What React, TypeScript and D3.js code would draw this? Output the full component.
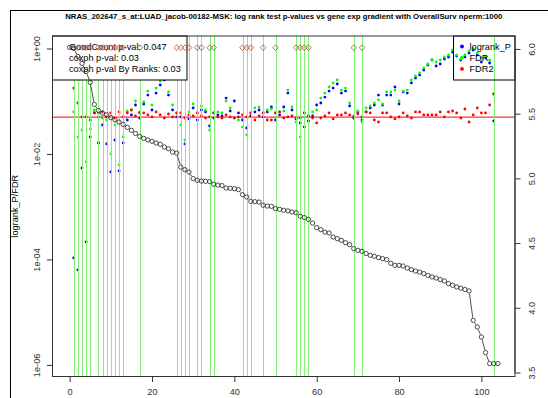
import React, { useEffect, useRef } from 'react';
import * as d3 from 'd3';

// chart text
const title = 'NRAS_202647_s_at:LUAD_jacob-00182-MSK: log rank test p-values vs gene exp gradient with OverallSurv nperm:1000';
const yLabel = 'logrank_P/FDR';
const statLines = ['GoodCount p-val: 0.047', 'coxph p-val: 0.03', 'coxph p-val By Ranks: 0.03'];
const seriesNames = ['logrank_P', 'FDR', 'FDR2'];
const seriesColors = ['#0000ff', '#00ff00', '#ff0000'];

// gene expression, sorted, samples 0..104 (right axis)
const geneExp = [
  6.012, 6.004, 5.942, 5.888, 5.826, 5.741, 5.571, 5.525, 5.504, 5.492,
  5.469, 5.453, 5.435, 5.417, 5.394, 5.371, 5.347, 5.324, 5.309, 5.297,
  5.286, 5.273, 5.263, 5.242, 5.229, 5.203, 5.195, 5.087, 5.067, 5.049,
  4.998, 4.985, 4.979, 4.977, 4.975, 4.954, 4.948, 4.944, 4.925, 4.923,
  4.920, 4.913, 4.874, 4.856, 4.822, 4.820, 4.817, 4.792, 4.786, 4.784,
  4.766, 4.761, 4.753, 4.749, 4.740, 4.735, 4.707, 4.697, 4.683, 4.655,
  4.619, 4.604, 4.585, 4.578, 4.547, 4.534, 4.521, 4.503, 4.488, 4.457,
  4.444, 4.436, 4.419, 4.405, 4.398, 4.388, 4.380, 4.372, 4.344, 4.328,
  4.328, 4.323, 4.307, 4.295, 4.284, 4.276, 4.264, 4.250, 4.238, 4.230,
  4.218, 4.207, 4.187, 4.174, 4.161, 4.151, 4.141, 4.130, 3.903, 3.852,
  3.774, 3.654, 3.569, 3.569, 3.569,
];

// p-values at cut points 1..103
const logrankP = [
  0.000107, 0.0000632, 0.00543, 0.000215, 0.021, 0.0599, 0.0162, 0.0355, 0.0155, 0.00456,
  0.0184, 0.00476, 0.0162, 0.0441, 0.0549, 0.0849, 0.0481, 0.0887, 0.131, 0.0682,
  0.143, 0.203, 0.253, 0.131, 0.0682, 0.0503, 0.0503, 0.0155, 0.0461, 0.0745,
  0.0441, 0.0682, 0.0626, 0.034, 0.0481, 0.0549, 0.0525, 0.115, 0.0653, 0.101,
  0.0599, 0.0441, 0.0311, 0.0525, 0.0626, 0.0682, 0.0503, 0.0626, 0.0778, 0.0441,
  0.0549, 0.0778, 0.143, 0.0682, 0.0461, 0.0387, 0.0325, 0.0422, 0.0525, 0.0849,
  0.0926, 0.12, 0.156, 0.178, 0.212, 0.143, 0.156, 0.0813, 0.0481, 0.0626,
  0.0441, 0.0626, 0.0745, 0.0849, 0.131, 0.0849, 0.131, 0.131, 0.186, 0.0887,
  0.15, 0.143, 0.222, 0.276, 0.315, 0.391, 0.487, 0.605, 0.466, 0.508,
  0.632, 0.69, 0.858, 0.721, 0.605, 0.69, 0.822, 0.937, 0.753, 0.555,
  0.661, 0.531, 0.0422,
];
const fdr = [
  0.0626, 0.021, 0.0285, 0.00705, 0.0298, 0.0682, 0.0503, 0.0481, 0.0441, 0.01,
  0.0355, 0.00619, 0.021, 0.0653, 0.0682, 0.101, 0.0626, 0.0968, 0.156, 0.0849,
  0.178, 0.242, 0.301, 0.15, 0.0849, 0.0599, 0.0355, 0.0184, 0.0626, 0.0887,
  0.0599, 0.0813, 0.0682, 0.0285, 0.0599, 0.0626, 0.0599, 0.101, 0.0745, 0.0481,
  0.0441, 0.0325, 0.0229, 0.0599, 0.0745, 0.0778, 0.0599, 0.0682, 0.0713, 0.0599,
  0.0626, 0.0653, 0.163, 0.0778, 0.0404, 0.021, 0.0599, 0.0525, 0.0626, 0.0682,
  0.115, 0.143, 0.186, 0.222, 0.253, 0.163, 0.178, 0.0926, 0.0525, 0.0653,
  0.0404, 0.0745, 0.0813, 0.0926, 0.106, 0.0887, 0.15, 0.15, 0.163, 0.101,
  0.156, 0.163, 0.253, 0.301, 0.343, 0.427, 0.508, 0.605, 0.555, 0.605,
  0.69, 0.753, 0.937, 0.753, 0.632, 0.753, 0.897, 1.0, 0.822, 0.661,
  0.69, 0.605, 0.137,
];
const fdr2 = [
  0.178, 0.0926, 0.0503, 0.0503, 0.0441, 0.0599, 0.0599, 0.0626, 0.0503, 0.0599,
  0.0481, 0.0626, 0.0503, 0.0599, 0.0682, 0.0525, 0.0599, 0.0599, 0.0549, 0.0503,
  0.0626, 0.0549, 0.0481, 0.0573, 0.0503, 0.0599, 0.0599, 0.0481, 0.0549, 0.0525,
  0.0599, 0.0525, 0.0481, 0.0503, 0.0599, 0.0503, 0.0481, 0.0549, 0.0503, 0.0481,
  0.0503, 0.0549, 0.0503, 0.0599, 0.0441, 0.0525, 0.0599, 0.0441, 0.0441, 0.0599,
  0.0626, 0.0481, 0.0503, 0.0525, 0.0481, 0.0481, 0.0599, 0.0525, 0.0481, 0.0387,
  0.0481, 0.0525, 0.0599, 0.0461, 0.0549, 0.0549, 0.0599, 0.0549, 0.0503, 0.0573,
  0.0503, 0.0626, 0.0599, 0.0441, 0.0404, 0.0599, 0.0599, 0.0503, 0.0461, 0.0503,
  0.0599, 0.0525, 0.0481, 0.0626, 0.0626, 0.0549, 0.0549, 0.0549, 0.0549, 0.0626,
  0.0503, 0.0626, 0.0653, 0.0599, 0.0481, 0.0713, 0.0404, 0.0549, 0.0745, 0.0599,
  0.0599, 0.0849, 0.137,
];

// cut points marked with vertical lines, and those flagged with a diamond
const markedCuts = [1, 2, 3, 4, 5, 7, 8, 9, 10, 11, 12, 13, 17, 26, 27, 28, 29, 31, 32, 34, 35,
  42, 43, 44, 47, 50, 55, 56, 57, 58, 69, 71, 103];
const diamondCuts = [1, 2, 3, 4, 5, 7, 8, 9, 10, 11, 12, 13, 17, 26, 27, 28, 29, 31, 32, 34, 35,
  42, 43, 44, 47, 50, 55, 56, 57, 58, 69, 71];
const diamondLevel = 6.01;
const pCutoff = 0.05;

const xTicks = [0, 20, 40, 60, 80, 100];
const yTicks = [1, 1e-2, 1e-4, 1e-6];
const yTickLabels = ['1e+00', '1e-02', '1e-04', '1e-06'];
const y2Ticks = [3.5, 4.0, 4.5, 5.0, 5.5, 6.0];

const FONT = '"Liberation Sans", Arial, Helvetica, sans-serif';

export default function App() {
  const svgRef = useRef<SVGSVGElement>(null);

  useEffect(() => {
    const W = 548, H = 398;
    const box = { left: 52.5, right: 515, top: 36, bottom: 376.5 };

    const svg = d3.select(svgRef.current);
    svg.selectAll('*').remove();
    svg.attr('width', W).attr('height', H);

    svg.append('rect').attr('width', W).attr('height', H).attr('fill', '#fff');

    // outer frame (left + top edges visible)
    svg.append('rect')
      .attr('x', 10.5).attr('y', 10.5).attr('width', 700).attr('height', 700)
      .attr('fill', 'none').attr('stroke', '#000').attr('stroke-width', 1);

    const x = d3.scaleLinear().domain([-4.16, 108.16]).range([box.left, box.right]);
    const y = d3.scaleLog().domain([Math.pow(10, -6.22), Math.pow(10, 0.237)]).range([box.bottom, box.top]);
    const y2 = d3.scaleLinear().domain([3.469, 6.1]).range([box.bottom, box.top]);

    // title
    svg.append('text')
      .attr('x', (box.left + box.right) / 2).attr('y', 19)
      .attr('text-anchor', 'middle')
      .attr('font-family', FONT).attr('font-weight', 'bold').attr('font-size', 8)
      .attr('textLength', 437).attr('lengthAdjust', 'spacingAndGlyphs')
      .text(title);

    const g = svg.append('g');

    // p-value series (pch 20)
    const series = [logrankP, fdr, fdr2];
    series.forEach((vals, si) => {
      g.append('g').selectAll('circle')
        .data(vals)
        .join('circle')
        .attr('cx', (_, i) => x(i + 1))
        .attr('cy', d => y(d))
        .attr('r', 1.4)
        .attr('fill', seriesColors[si]);
    });

    // cutoff line
    g.append('line')
      .attr('x1', box.left).attr('x2', box.right)
      .attr('y1', y(pCutoff)).attr('y2', y(pCutoff))
      .attr('stroke', '#ff0000').attr('stroke-width', 1);

    // marked cuts
    g.append('g').selectAll('line')
      .data(markedCuts)
      .join('line')
      .attr('x1', d => Math.round(x(d)) + 0.5).attr('x2', d => Math.round(x(d)) + 0.5)
      .attr('y1', box.top).attr('y2', box.bottom)
      .attr('stroke', '#86ec7a').attr('stroke-width', 1);

    // left stats box
    const lb = { x: box.left, y: box.top, w: 134.5, h: 44 };
    g.append('rect')
      .attr('x', lb.x).attr('y', lb.y).attr('width', lb.w).attr('height', lb.h)
      .attr('fill', '#fff').attr('stroke', '#000').attr('stroke-width', 1);
    statLines.forEach((t, i) => {
      g.append('text')
        .attr('x', 69).attr('y', 50 + i * 11.2)
        .attr('font-family', FONT).attr('font-size', 9.2).attr('fill', '#000')
        .text(t);
    });

    // right legend
    const rb = { x: 453.5, y: box.top, w: box.right - 453.5, h: 44 };
    g.append('rect')
      .attr('x', rb.x).attr('y', rb.y).attr('width', rb.w).attr('height', rb.h)
      .attr('fill', 'none').attr('stroke', '#000').attr('stroke-width', 1);
    seriesNames.forEach((n, i) => {
      g.append('circle').attr('cx', 462).attr('cy', 46.5 + i * 11.2).attr('r', 1.9).attr('fill', seriesColors[i]);
      g.append('text')
        .attr('x', 469.5).attr('y', 50 + i * 11.2)
        .attr('font-family', FONT).attr('font-size', 9.2).attr('fill', '#000')
        .text(n);
    });

    // diamonds
    g.append('g').selectAll('path')
      .data(diamondCuts)
      .join('path')
      .attr('transform', d => `translate(${x(d)},${y2(diamondLevel)})`)
      .attr('d', 'M0,-2.8L2.8,0L0,2.8L-2.8,0Z')
      .attr('fill', 'none').attr('stroke', '#b04a3a').attr('stroke-width', 0.8);

    // gene expression, type "b"
    const r = 2.15;
    const pts = geneExp.map((v, i) => [x(i), y2(v)] as [number, number]);
    const segs: string[] = [];
    for (let i = 1; i < pts.length; i++) {
      const [x0, y0] = pts[i - 1];
      const [x1, y1] = pts[i];
      const dx = x1 - x0, dy = y1 - y0;
      const dist = Math.hypot(dx, dy);
      const gap = r + 0.6;
      if (dist > 2 * gap) {
        const ux = dx / dist, uy = dy / dist;
        segs.push(`M${x0 + ux * gap},${y0 + uy * gap}L${x1 - ux * gap},${y1 - uy * gap}`);
      }
    }
    g.append('path').attr('d', segs.join('')).attr('stroke', '#222').attr('stroke-width', 0.8).attr('fill', 'none');
    g.append('g').selectAll('circle')
      .data(pts)
      .join('circle')
      .attr('cx', d => d[0]).attr('cy', d => d[1])
      .attr('r', r)
      .attr('fill', 'none').attr('stroke', '#222').attr('stroke-width', 0.8);

    // plot box
    svg.append('rect')
      .attr('x', box.left).attr('y', box.top)
      .attr('width', box.right - box.left).attr('height', box.bottom - box.top)
      .attr('fill', 'none').attr('stroke', '#333').attr('stroke-width', 1);

    // bottom axis
    const xa = svg.append('g').attr('transform', `translate(0,${box.bottom})`)
      .call(d3.axisBottom(x).tickValues(xTicks).tickSize(5.5).tickPadding(6).tickFormat(d3.format('d')));
    xa.select('.domain').attr('d', `M${x(xTicks[0])},0H${x(xTicks[xTicks.length - 1])}`).attr('stroke', '#333');
    xa.selectAll('line').attr('stroke', '#333');
    xa.selectAll('text').attr('font-family', FONT).attr('font-size', 9.2).attr('fill', '#333');

    // left axis (log)
    const ya = svg.append('g').attr('transform', `translate(${box.left},0)`)
      .call(d3.axisLeft(y).tickValues(yTicks).tickSize(5.5).tickFormat((_, i) => yTickLabels[i]));
    ya.select('.domain').attr('d', `M0,${y(yTicks[0])}V${y(yTicks[yTicks.length - 1])}`).attr('stroke', '#333');
    ya.selectAll('line').attr('stroke', '#333');
    ya.selectAll('text')
      .attr('x', null).attr('dy', null)
      .attr('text-anchor', 'middle')
      .attr('transform', 'translate(-12.5,0) rotate(-90)')
      .attr('font-family', FONT).attr('font-size', 9.2).attr('fill', '#333');

    // right axis
    const y2a = svg.append('g').attr('transform', `translate(${box.right},0)`)
      .call(d3.axisRight(y2).tickValues(y2Ticks).tickSize(5.5).tickFormat(d3.format('.1f')));
    y2a.select('.domain').attr('d', `M0,${y2(y2Ticks[0])}V${y2(y2Ticks[y2Ticks.length - 1])}`).attr('stroke', '#333');
    y2a.selectAll('line').attr('stroke', '#333');
    y2a.selectAll('text')
      .attr('x', null).attr('dy', null)
      .attr('text-anchor', 'middle')
      .attr('transform', 'translate(20,0) rotate(-90)')
      .attr('font-family', FONT).attr('font-size', 9.2).attr('fill', '#333');

    // y label
    svg.append('text')
      .attr('transform', `translate(18,${(box.top + box.bottom) / 2}) rotate(-90)`)
      .attr('text-anchor', 'middle')
      .attr('font-family', FONT).attr('font-size', 9.2).attr('fill', '#000')
      .text(yLabel);
  }, []);

  return (
    <div style={{ position: 'absolute', left: 0, top: 0 }}>
      <svg ref={svgRef}></svg>
    </div>
  );
}
